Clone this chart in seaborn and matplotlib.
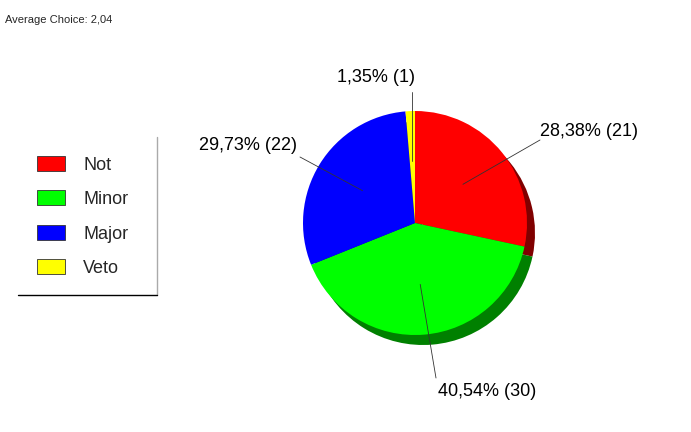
import numpy as np
import matplotlib
matplotlib.use('Agg')
import matplotlib.pyplot as plt
import matplotlib.patches as mpatches
import seaborn as sns

# ---------------------------------------------------------------
# data
# ---------------------------------------------------------------
categories = ['Not', 'Minor', 'Major', 'Veto']
counts     = [21, 30, 22, 1]
choice_val = [1, 2, 3, 4]

colors        = ['#ff0000', '#00ff00', '#0000ff', '#ffff00']
shadow_colors = ['#800000', '#008000', '#000080', '#808000']

# ---------------------------------------------------------------
# layout (pixels, origin top-left)
# ---------------------------------------------------------------
W, H       = 691, 432
CENTER     = (415, 223)
RADIUS     = 112
SHADOW_OFF = (8, 10)
LABEL_XY   = [(589, 131), (487, 391), (248, 146), (376, 78)]
LINE_END   = [(540, 140), (436, 378), (300, 157), (None, 92)]

sns.set_theme(style='white')
plt.rcParams['font.family'] = ['Liberation Sans', 'DejaVu Sans']

fig = plt.figure(figsize=(W / 100, H / 100), dpi=100)
ax = fig.add_axes([0, 0, 1, 1])

cx, cy = CENTER[0], H - CENTER[1]

# shadow pie, then the real one on top
ax.pie(counts, colors=shadow_colors, startangle=90, counterclock=False,
       radius=RADIUS, center=(cx + SHADOW_OFF[0], cy - SHADOW_OFF[1]),
       wedgeprops=dict(linewidth=0), frame=True)
wedges, _ = ax.pie(counts, colors=colors, startangle=90, counterclock=False,
                   radius=RADIUS, center=(cx, cy),
                   wedgeprops=dict(linewidth=0), frame=True)

total = sum(counts)
for w, n, (lx, ly), (ex, ey) in zip(wedges, counts, LABEL_XY, LINE_END):
    mid = np.deg2rad((w.theta1 + w.theta2) / 2)
    ix = cx + 0.55 * RADIUS * np.cos(mid)
    iy = cy + 0.55 * RADIUS * np.sin(mid)
    if ex is None:
        ex = ix
    ax.plot([ix, ex], [iy, H - ey], color='#333333', lw=0.6, zorder=5)
    pct = f"{100 * n / total:.2f}".replace('.', ',')
    ax.text(lx, H - ly, f"{pct}% ({n})", fontsize=13, ha='center',
            va='center', color='black', zorder=6)

ax.set_xlim(0, W)
ax.set_ylim(0, H)
ax.set_aspect('equal', adjustable='datalim')
ax.axis('off')

# legend
handles = [mpatches.Patch(facecolor=c, edgecolor='#333333', linewidth=0.6)
           for c in colors]
leg = ax.legend(handles, categories, loc='upper left',
                bbox_to_anchor=(37 / W, 1 - 156 / H), bbox_transform=fig.transFigure,
                frameon=False, fontsize=13, borderpad=0, borderaxespad=0,
                handlelength=1.55, handleheight=0.89, handletextpad=1.0,
                labelspacing=0.93)

# legend box edges (right + bottom)
ax.plot([157, 157], [H - 137, H - 295], color='#aaaaaa', lw=1)
ax.plot([18, 157], [H - 295, H - 295], color='black', lw=1)

avg = sum(c * v for c, v in zip(counts, choice_val)) / total
fig.text(5 / W, 1 - 23 / H, f"Average Choice: {avg:.2f}".replace('.', ','),
         fontsize=8, ha='left', va='baseline')

fig.savefig('out.png', dpi=100, facecolor='white')
